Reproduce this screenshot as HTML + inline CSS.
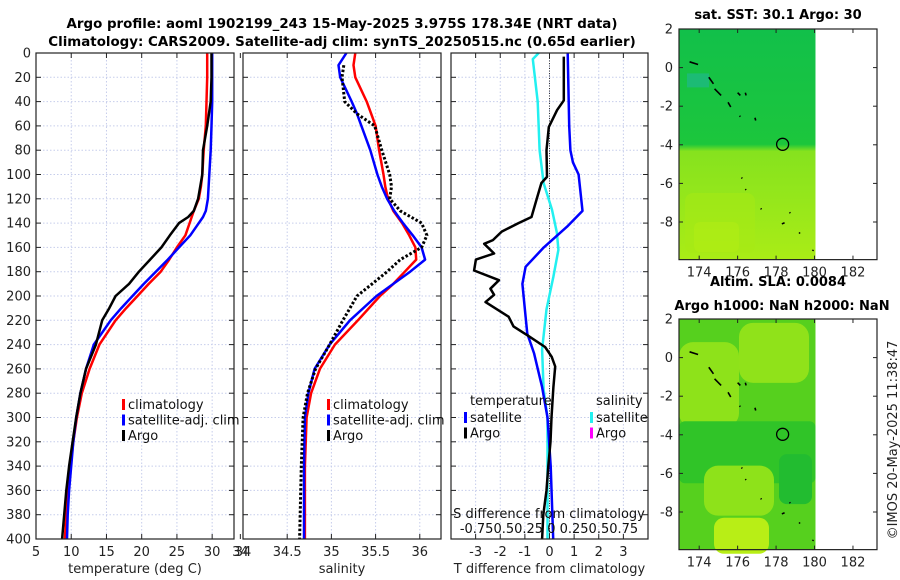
<!DOCTYPE html>
<html><head><meta charset="utf-8"><style>
html,body{margin:0;padding:0;background:#fff}
svg{display:block;font-family:"DejaVu Sans","Liberation Sans",sans-serif}
</style></head><body>
<svg id="fig" xmlns="http://www.w3.org/2000/svg" width="900" height="580" viewBox="0 0 900 580">
<defs>
<linearGradient id="m1g" x1="0" y1="0" x2="0" y2="1">
<stop offset="0" stop-color="#12c04a"/><stop offset="0.5" stop-color="#1cc63c"/><stop offset="0.53" stop-color="#86e21e"/><stop offset="0.8" stop-color="#9ae81a"/><stop offset="1" stop-color="#aaec16"/>
</linearGradient>
</defs>
<g font-weight="bold" font-size="13.4" text-anchor="middle" fill="#000">
<text x="342" y="28">Argo profile: aoml 1902199_243 15-May-2025 3.975S 178.34E (NRT data)</text>
<text x="342" y="46">Climatology: CARS2009. Satellite-adj clim: synTS_20250515.nc (0.65d earlier)</text>
</g>
<g id="p1"></g>
<g id="p2"></g>
<g id="p3"></g>
<g id="maps"></g>
<text transform="translate(897,440) rotate(-90)" text-anchor="middle" font-size="13" fill="#222">©IMOS 20-May-2025 11:38:47</text>
</svg>
<script>
// ---- data ----
const depthTicks=[0,20,40,60,80,100,120,140,160,180,200,220,240,260,280,300,320,340,360,380,400];
const tDepth=[0,20,40,60,80,100,110,120,130,135,140,150,160,170,180,190,200,210,220,240,260,280,300,320,340,360,380,400];
const tClim=[29.3,29.3,29.2,29.1,28.8,28.6,28.4,28.1,27.4,27.1,26.8,26.2,25.0,23.9,22.7,21.0,19.4,17.8,16.3,14.0,12.6,11.5,10.8,10.3,9.9,9.5,9.3,9.1];
const tSat=[30.0,30.0,30.0,29.9,29.8,29.6,29.5,29.4,29.1,28.7,28.1,26.9,25.3,23.7,22.0,20.3,18.7,17.1,15.6,13.2,12.1,11.3,10.7,10.3,10.0,9.7,9.5,9.4];
const tArgo=[29.9,29.9,29.8,29.3,28.7,28.6,28.3,28.0,27.4,26.6,25.3,24.0,22.8,21.2,19.6,18.2,16.3,15.4,14.4,13.5,12.1,11.3,10.7,10.2,9.7,9.3,9.0,8.7];
const sDepth=[0,10,20,40,50,60,80,100,110,120,130,140,150,160,170,180,190,200,220,240,260,280,300,340,400];
const sClim=[35.27,35.25,35.27,35.40,35.45,35.50,35.54,35.59,35.61,35.64,35.70,35.80,35.88,35.95,35.96,35.83,35.70,35.55,35.30,35.04,34.87,34.77,34.72,34.70,34.70];
const sSat=[35.17,35.08,35.10,35.23,35.29,35.34,35.44,35.52,35.57,35.63,35.71,35.81,35.92,36.02,36.06,35.89,35.70,35.51,35.21,34.98,34.81,34.74,34.70,34.69,34.69];
const sArgo=[null,35.14,35.12,35.15,35.29,35.49,35.57,35.66,35.68,35.66,35.78,36.02,36.08,36.02,35.78,35.63,35.46,35.29,35.13,34.98,34.82,34.73,34.68,34.66,34.64];
const dDepth=[0,3,39,47,61,80,102,107,121,135,140,147,154,157,165,170,179,187,194,199,205,217,225,233,242,250,258,275,300,320,340,360,380,400];
const dTArgo=[null,0.58,0.58,0.31,-0.03,-0.12,-0.1,-0.33,-0.53,-0.73,-1.26,-1.94,-2.3,-2.65,-2.25,-2.99,-3.06,-2.05,-2.4,-2.25,-2.6,-1.66,-1.46,-0.85,-0.18,0.09,0.23,0.16,0.08,0.04,-0.05,-0.12,-0.25,-0.3];
const dsDepth=[0,20,40,60,80,90,100,130,143,160,176,190,217,231,247,275,300,340,400];
const dTSat=[0.74,0.76,0.78,0.8,0.85,0.95,1.18,1.34,0.71,-0.23,-0.97,-1.1,-0.97,-0.9,-0.63,-0.3,-0.08,0.05,0.15];
const dcDepth=[0,5,40,80,107,129,148,162,184,211,244,277,300,400];
const dSSat=[-0.11,-0.17,-0.12,-0.1,-0.06,0.025,0.075,0.09,0.04,-0.03,-0.075,-0.06,-0.02,-0.02];
const tTicks=[5,10,15,20,25,30,34];
const sTicks=[34,34.5,35,35.5,36];
const dTicks=[-3,-2,-1,0,1,2,3];
const latTicks=[2,0,-2,-4,-6,-8];
const lonTicks=[174,176,178,180,182];

const NS="http://www.w3.org/2000/svg";
function mk(parent,tag,attrs,text){const e=document.createElementNS(NS,tag);for(const k in attrs)e.setAttribute(k,attrs[k]);if(text!==undefined)e.textContent=text;parent.appendChild(e);return e;}
const Y0=53,Y1=539;
const yD=d=>Y0+(Y1-Y0)*d/400;
const FS=13;

function panel(g,x0,x1,xmin,xmax,xticks,xlabel,showY,fmt){
  const xs=v=>x0+(x1-x0)*(v-xmin)/(xmax-xmin);
  xticks.forEach(t=>{const x=xs(t);
    if(x>x0+1&&x<x1-1){const gl=mk(g,'line',{x1:x,x2:x,y1:Y0,y2:Y1,stroke:'#c6cdeb','stroke-dasharray':'1.5,2','stroke-width':1});
    }
    mk(g,'line',{x1:x,x2:x,y1:Y1,y2:Y1-5,stroke:'#222'});mk(g,'line',{x1:x,x2:x,y1:Y0,y2:Y0+5,stroke:'#222'});
    const tl=mk(g,'text',{x:x,y:Y1+17,'text-anchor':'middle','font-size':FS,fill:'#222'},fmt?fmt(t):String(t));
    
  });
  depthTicks.forEach(d=>{const y=yD(d);
    if(d>0&&d<400){const gl=mk(g,'line',{x1:x0,x2:x1,y1:y,y2:y,stroke:'#c6cdeb','stroke-dasharray':'1.5,2'});
    }
    mk(g,'line',{x1:x0,x2:x0+5,y1:y,y2:y,stroke:'#222'});mk(g,'line',{x1:x1,x2:x1-5,y1:y,y2:y,stroke:'#222'});
    if(showY){const tl=mk(g,'text',{x:x0-5,y:y+4.5,'text-anchor':'end','font-size':FS,fill:'#222'},String(d));
    }
  });
  const xl=mk(g,'text',{x:(x0+x1)/2,y:Y1+34,'text-anchor':'middle','font-size':FS,fill:'#222'},xlabel);
  
  return xs;
}
function frame(g,x0,x1){const r=mk(g,'rect',{x:x0,y:Y0,width:x1-x0,height:Y1-Y0,fill:'none',stroke:'#222','stroke-width':1.2});
  }
function line(g,xs,depths,vals,color,w,dash,name){
  let d='',pen=false;
  vals.forEach((v,i)=>{if(v===null){pen=false;return;}d+=(pen?'L':'M')+xs(v).toFixed(1)+','+yD(depths[i]).toFixed(1);pen=true;});
  const p=mk(g,'path',{d:d,fill:'none',stroke:color,'stroke-width':w,'stroke-linejoin':'round'});
  if(dash)p.setAttribute('stroke-dasharray',dash);
  
}
function legend(g,x,y,items){
  items.forEach((it,i)=>{const yy=y+i*15.5;
    const b=mk(g,'rect',{x:x,y:yy-9,width:3,height:11,fill:it[1]});
    
    const t=mk(g,'text',{x:x+6,y:yy+1,'font-size':FS,fill:'#111'},it[0]);
    
  });
}
// Panel 1
const p1=document.getElementById('p1');
const x1s=panel(p1,36,234,5,33.1,tTicks,'temperature (deg C)',true);
line(p1,x1s,tDepth,tClim,'#ff0000',2.5,null,'climatology-temperature-line');
line(p1,x1s,tDepth,tSat,'#0000ff',2.5,null,'satellite-temperature-line');
line(p1,x1s,tDepth,tArgo,'#000000',2.5,null,'argo-temperature-line');
frame(p1,36,234);
legend(p1,122,408,[['climatology','#ff0000'],['satellite-adj. clim','#0000ff'],['Argo','#000']]);
// Panel 2
const p2=document.getElementById('p2');
const x2s=panel(p2,243,441,34,36.24,sTicks,'salinity',false);
line(p2,x2s,sDepth,sClim,'#ff0000',2.5,null,'climatology-salinity-line');
line(p2,x2s,sDepth,sSat,'#0000ff',2.5,null,'satellite-salinity-line');
line(p2,x2s,sDepth,sArgo,'#000000',3,'2.5,2','argo-salinity-line');
frame(p2,243,441);
legend(p2,327,408,[['climatology','#ff0000'],['satellite-adj. clim','#0000ff'],['Argo','#000']]);
// Panel 3
const p3=document.getElementById('p3');
const x3s=panel(p3,451,648,-4,4,dTicks,'T difference from climatology',false,t=>t===0?'0':String(t));
const zl=mk(p3,'line',{x1:x3s(0),x2:x3s(0),y1:Y0,y2:Y1,stroke:'#333','stroke-dasharray':'1,1.5'});

const sScale=v=>x3s(v*4);
line(p3,sScale,dcDepth,dSSat,'#22f0f0',2.5,null,'satellite-salinity-diff-line');
line(p3,x3s,dsDepth,dTSat,'#0000ff',2.5,null,'satellite-temperature-diff-line');
line(p3,x3s,dDepth,dTArgo,'#000000',2.5,null,'argo-temperature-diff-line');
frame(p3,451,648);
const lt=mk(p3,'text',{x:470,y:405,'font-size':FS,fill:'#111'},'temperature');

const ls=mk(p3,'text',{x:596,y:405,'font-size':FS,fill:'#111'},'salinity');

legend(p3,464,421,[['satellite','#0000ff'],['Argo','#000']]);
legend(p3,590,421,[['satellite','#22f0f0'],['Argo','#ff00ff']]);
const st=mk(p3,'text',{x:549,y:518,'text-anchor':'middle','font-size':FS,fill:'#111'},'S difference from climatology');

const sl=mk(p3,'text',{x:549,y:533,'text-anchor':'middle','font-size':FS,fill:'#111'},'-0.750.50.25 0 0.250.50.75');


// Maps
const maps=document.getElementById('maps');
const MX0=679,MX1=877,LON0=172.95,LON1=183.25;
const lonX=l=>MX0+(MX1-MX0)*(l-LON0)/(LON1-LON0);
function map(top,title1,title2,fillfn,name){
  const g=mk(maps,'g',{});
  const latY=la=>top+(2-la)*19.3;
  const bot=latY(-9.95);
  fillfn(g,lonX(180.05),latY);
  [[173.5,0.3,173.9,0.2],[174.5,-0.5,174.7,-0.8],[174.8,-1.1,175.1,-1.4],[175.5,-1.8,175.6,-2],[176,-1.3,176.1,-1.4],[176.4,-1.3,176.4,-1.4],[176.1,-2.5,176.1,-2.5],[176.9,-2.6,176.9,-2.7],[176.2,-5.7,176.2,-5.7],[176.4,-6.3,176.4,-6.3],[177.2,-7.3,177.2,-7.3],[178.7,-7.5,178.7,-7.5],[178.3,-8.1,178.4,-8.0],[179.2,-8.6,179.2,-8.5],[179.9,-9.5,179.9,-9.4]].forEach(c=>{
    mk(g,'line',{x1:lonX(c[0]),y1:latY(c[1]),x2:lonX(c[2])+0.8,y2:latY(c[3])+0.8,stroke:'#000','stroke-width':1.6});});
  const ci=mk(g,'ellipse',{cx:lonX(178.34),cy:latY(-3.975),rx:6,ry:6,fill:'none',stroke:'#000','stroke-width':1.3});
  
  const fr=mk(g,'rect',{x:MX0,y:top,width:MX1-MX0,height:bot-top,fill:'none',stroke:'#222','stroke-width':1.2});
  
  latTicks.forEach(la=>{const y=latY(la);
    mk(g,'line',{x1:MX0,x2:MX0+4,y1:y,y2:y,stroke:'#222'});mk(g,'line',{x1:MX1,x2:MX1-4,y1:y,y2:y,stroke:'#222'});
    const t=mk(g,'text',{x:673,y:y+4.5,'text-anchor':'end','font-size':FS,fill:'#222'},String(la));
    });
  lonTicks.forEach(lo=>{const x=lonX(lo);
    mk(g,'line',{x1:x,x2:x,y1:bot,y2:bot-4,stroke:'#222'});mk(g,'line',{x1:x,x2:x,y1:top,y2:top+4,stroke:'#222'});
    const t=mk(g,'text',{x:x,y:bot+17,'text-anchor':'middle','font-size':FS,fill:'#222'},String(lo));
    });
  const t1=mk(g,'text',{x:778,y:title2?top-33:top-10,'text-anchor':'middle','font-size':13,'font-weight':'bold'},title1);
  
  if(title2){const t2=mk(g,'text',{x:782,y:top-9,'text-anchor':'middle','font-size':13,'font-weight':'bold'},title2);
    }
}
map(29,'sat. SST: 30.1 Argo: 30',null,(g,xr,latY)=>{
  mk(g,'rect',{x:MX0,y:latY(2),width:xr-MX0,height:latY(-9.95)-latY(2),fill:'url(#m1g)'});
  mk(g,'rect',{x:MX0+8,y:latY(-0.3),width:22,height:14,fill:'#20b88a',opacity:0.7});
  mk(g,'rect',{x:MX0+6,y:latY(-6.5),width:70,height:60,fill:'#a8ea14',opacity:0.5,rx:8});
  mk(g,'rect',{x:MX0+15,y:latY(-8),width:45,height:30,fill:'#b4ee14',opacity:0.5,rx:6});
},'sst-map');
map(319,'Altim. SLA: 0.0084','Argo h1000: NaN h2000: NaN',(g,xr,latY)=>{
  mk(g,'rect',{x:MX0,y:latY(2),width:xr-MX0,height:latY(-9.95)-latY(2),fill:'#56d01e'});
  mk(g,'rect',{x:MX0,y:latY(0.8),width:60,height:85,fill:'#8ee21a',rx:14});
  mk(g,'rect',{x:MX0+60,y:latY(1.8),width:70,height:60,fill:'#90e21a',rx:14});
  mk(g,'rect',{x:MX0,y:latY(-3.3),width:xr-MX0,height:62,fill:'#30c428',rx:6});
  mk(g,'rect',{x:MX0+25,y:latY(-5.6),width:70,height:50,fill:'#8ee21a',rx:14});
  mk(g,'rect',{x:MX0+35,y:latY(-8.3),width:55,height:36,fill:'#b8ee16',rx:10});
  mk(g,'rect',{x:MX0+100,y:latY(-5),width:33,height:50,fill:'#22bc30',rx:8});
},'sla-map');
</script>
</body></html>
